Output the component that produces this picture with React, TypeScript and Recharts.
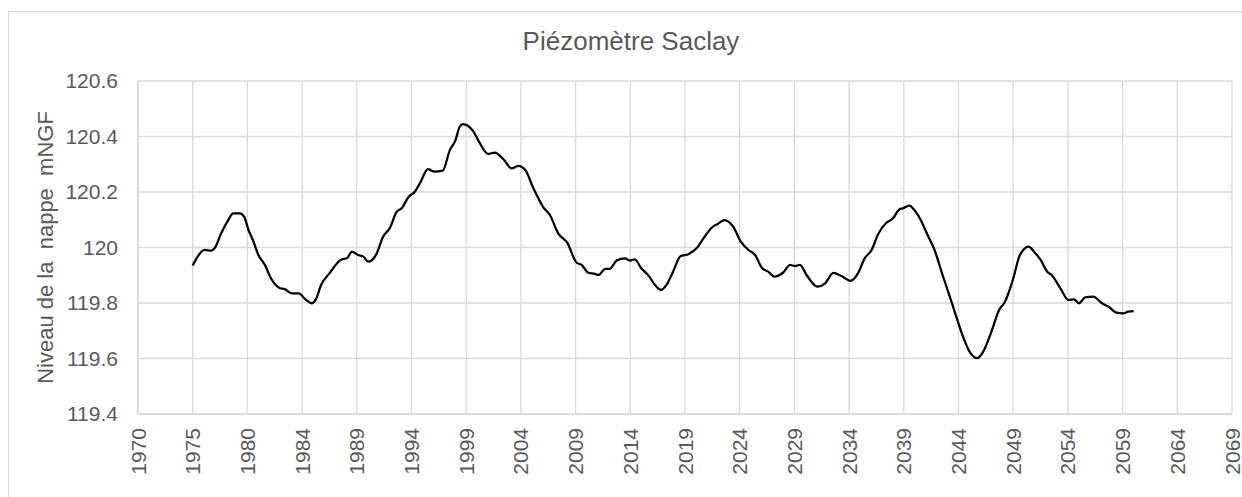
import { LineChart, Line, XAxis, YAxis, CartesianGrid } from "recharts";

const TITLE = "Piézomètre Saclay";
const Y_LABEL = "Niveau de la  nappe  mNGF";

// tick labels of the date axis (major unit 1826 days from 1970)
const X_TICK_LABELS = [
  "1970", "1975", "1980", "1984", "1989", "1994", "1999", "2004", "2009", "2014", "2019",
  "2024", "2029", "2034", "2039", "2044", "2049", "2054", "2059", "2064", "2069",
];
const Y_TICKS = [119.4, 119.6, 119.8, 120.0, 120.2, 120.4, 120.6];

// fractional years and water level (mNGF)
const YEARS = [
  1975.0, 1975.5, 1976.1, 1976.7, 1977.0, 1977.6, 1978.25, 1978.7, 1979.3, 1979.7,
  1980.1, 1980.5, 1981.0, 1981.6, 1982.15, 1983.0, 1983.4, 1984.05, 1984.7, 1985.3,
  1985.9, 1986.3, 1986.7, 1987.5, 1988.6, 1989.1, 1989.55, 1990.1, 1990.6, 1991.05,
  1991.8, 1992.4, 1993.0, 1993.65, 1994.1, 1994.7, 1995.3, 1995.8, 1996.5, 1997.1,
  1997.85, 1998.5, 1999.0, 1999.4, 1999.7, 2000.6, 2001.25, 2002.0, 2002.6, 2003.4,
  2004.15, 2004.75, 2005.4, 2006.1, 2007.05, 2007.65, 2008.4, 2009.2, 2010.1, 2010.55,
  2011.15, 2011.75, 2012.1, 2012.7, 2013.1, 2013.75, 2014.5, 2014.95, 2015.4, 2016.0,
  2016.7, 2017.25, 2017.8, 2018.3, 2018.9, 2019.6, 2020.3, 2021.05, 2021.65, 2022.6,
  2023.0, 2023.6, 2024.4, 2025.1, 2025.8, 2026.4, 2027.05, 2027.6, 2028.15, 2028.95,
  2029.6, 2030.05, 2030.5, 2031.1, 2032.1, 2032.8, 2033.55, 2034.3, 2035.1, 2035.8,
  2036.4, 2037.05, 2037.65, 2038.4, 2039.0, 2039.6, 2039.9, 2040.5, 2040.9, 2041.5,
  2042.2, 2042.8, 2043.5, 2044.3, 2045.0, 2045.4, 2046.0, 2046.7, 2047.25, 2048.0,
  2048.7, 2049.25, 2050.0, 2050.6, 2051.4, 2051.9, 2052.5, 2053.1, 2053.5, 2054.3,
  2055.05, 2055.55, 2056.0, 2056.55, 2057.3, 2058.1, 2058.7, 2059.45, 2060.05, 2060.5,
  2061.0,
];
const LEVELS = [
  119.935, 119.970, 119.991, 119.989, 119.997, 120.051, 120.099, 120.123, 120.123, 120.111,
  120.063, 120.027, 119.973, 119.937, 119.889, 119.853, 119.850, 119.835, 119.835, 119.813,
  119.799, 119.817, 119.862, 119.907, 119.957, 119.961, 119.985, 119.973, 119.967, 119.949,
  119.977, 120.039, 120.069, 120.129, 120.141, 120.181, 120.201, 120.234, 120.282, 120.273,
  120.277, 120.351, 120.385, 120.435, 120.445, 120.421, 120.375, 120.337, 120.342, 120.318,
  120.285, 120.294, 120.279, 120.217, 120.145, 120.117, 120.051, 120.019, 119.945, 119.937,
  119.909, 119.905, 119.901, 119.923, 119.923, 119.953, 119.961, 119.953, 119.957, 119.925,
  119.897, 119.865, 119.847, 119.865, 119.913, 119.969, 119.976, 119.997, 120.031, 120.077,
  120.085, 120.099, 120.075, 120.021, 119.991, 119.973, 119.925, 119.913, 119.895, 119.909,
  119.937, 119.933, 119.937, 119.901, 119.859, 119.871, 119.909, 119.897, 119.880, 119.907,
  119.960, 119.991, 120.049, 120.089, 120.105, 120.138, 120.141, 120.151, 120.138, 120.102,
  120.042, 119.991, 119.905, 119.810, 119.725, 119.679, 119.625, 119.601, 119.625, 119.697,
  119.775, 119.805, 119.889, 119.973, 120.003, 119.985, 119.955, 119.913, 119.901, 119.853,
  119.811, 119.813, 119.799, 119.820, 119.823, 119.799, 119.787, 119.765, 119.763, 119.769,
  119.771,
];

const data = YEARS.map((year, i) => ({ year, level: LEVELS[i] }));

const STEP = 1826 / 365.25;
const X_TICKS = X_TICK_LABELS.map((_, i) => 1970 + i * STEP);

const FONT = "'Liberation Sans', Arial, sans-serif";
const TEXT = "#595959";
const GRID = "#d9d9d9";

const XTick = (props: any) => {
  const { x, y, index } = props;
  return (
    <text
      transform={`translate(${x + 7.5},${y + 14}) rotate(-90)`}
      textAnchor="end"
      fill={TEXT}
      fontSize={21}
      fontFamily={FONT}
    >
      {X_TICK_LABELS[index]}
    </text>
  );
};

const YLabel = (props: any) => {
  const vb = props.viewBox || { x: 0, y: 0, width: 0, height: 0 };
  const cx = 44;
  const cy = vb.y + vb.height / 2;
  return (
    <text
      transform={`translate(${cx},${cy}) rotate(-90)`}
      textAnchor="middle"
      fill={TEXT}
      fontSize={22}
      fontFamily={FONT}
      style={{ whiteSpace: "pre" }}
    >
      {Y_LABEL}
    </text>
  );
};

export default function App() {
  return (
    <div
      style={{
        position: "fixed",
        left: 8,
        top: 11,
        width: 1240,
        height: 500,
        border: `1px solid ${GRID}`,
        background: "#fff",
        fontFamily: FONT,
      }}
    >
      <div
        style={{
          position: "absolute",
          top: 14,
          left: 0,
          width: 1244,
          textAlign: "center",
          fontSize: 26,
          lineHeight: "30px",
          color: TEXT,
        }}
      >
        {TITLE}
      </div>
      <LineChart
        width={1233}
        height={485}
        data={data}
        margin={{ top: 69, right: 10, bottom: 0, left: 0 }}
      >
        <CartesianGrid stroke={GRID} strokeWidth={1.3} />
        <XAxis
          type="number"
          dataKey="year"
          domain={[1970, 1970 + 20 * STEP]}
          ticks={X_TICKS}
          interval={0}
          tick={<XTick />}
          tickSize={0}
          tickMargin={0}
          height={83}
          axisLine={{ stroke: GRID, strokeWidth: 1.3 }}
          tickLine={false}
        />
        <YAxis
          type="number"
          domain={[119.4, 120.6]}
          ticks={Y_TICKS}
          interval={0}
          width={129}
          tickSize={0}
          tickMargin={20}
          tickFormatter={(v: number) => String(Number(v.toFixed(1)))}
          tick={{ fill: TEXT, fontSize: 21, fontFamily: FONT }}
          axisLine={{ stroke: GRID, strokeWidth: 1.3 }}
          tickLine={false}
          label={(p: any) => <YLabel {...p} />}
        />
        <Line
          type="monotone"
          dataKey="level"
          stroke="#000"
          strokeWidth={2.25}
          dot={false}
          isAnimationActive={false}
        />
      </LineChart>
    </div>
  );
}
